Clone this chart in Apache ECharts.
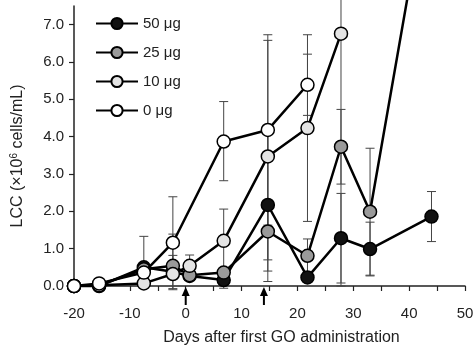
<!DOCTYPE html>
<html><head><meta charset="utf-8">
<script src="https://cdn.jsdelivr.net/npm/echarts@6/dist/echarts.min.js"></script>
<style>html,body{margin:0;padding:0;background:#fff}#c{width:474px;height:346px}</style>
</head><body><div id="c"></div>
<script>
// ---- data ----
const days = [-20, -15.5, -7.5, -2.3, 0.7, 6.8, 14.7, 21.8, 27.8, 33, 44];
const seriesNames = ['50 μg', '25 μg', '10 μg', '0 μg'];

const lcc50 = [0, 0, 0.5, 0.38, 0.27, 0.16, 2.17, 0.23, 1.28, 0.99, 1.86];
const lcc25 = [0, 0.02, 0.45, 0.54, 0.29, 0.36, 1.46, 0.81, 3.73, 1.99, 11.4];
const lcc10 = [0, 0.02, 0.07, 0.32, 0.54, 1.21, 3.47, 4.23, 6.76, null, null];
const lcc0  = [0, 0.07, 0.36, 1.16, null, 3.87, 4.18, 5.39, null, null, null];

// error bar half-lengths (up / down); null = none drawn
const err50Up   = [null, null, 0.83, null, null, 0.22, 2.05, null, 1.2, 0.72, 0.67];
const err50Down = [null, null, 0,    null, null, 0.22, 2.05, null, 1.2, 0.72, 0.67];
const err25Up   = [null, null, null, 0.85, null, null, 0.76, 0.45, 1.0, 1.7, null];
const err25Down = [null, null, null, 0.64, null, null, 0.76, 0.45, 1.0, 1.7, null];
const err10Up   = [null, null, null, 0.5, 0.29, 0.85, 3.11, 2.5, 6.76, null, null];
const err10Down = [null, null, null, 0,   0.29, 0.85, 3.07, 2.5, 6.76, null, null];
const err0Up    = [null, null, null, 1.23, null, 1.07, 2.55, 0.82, null, null, null];
const err0Down  = [null, null, null, 1.23, null, 1.05, 2.55, 0.82, null, null, null];

const arrowDays = [0, 14];
const xLabelValues = [-20, -10, 0, 10, 20, 30, 40, 50];
const xTickValues = [-20, -15, -10, -5, 0, 5, 10, 15, 20, 25, 30, 35, 40, 45, 50];
const yTickValues = [0, 1, 2, 3, 4, 5, 6, 7];

// ---- styles ----
const fills = ['#111111', '#9a9a9a', '#e4e4e4', '#ffffff'];
const values = [lcc50, lcc25, lcc10, lcc0];
const ups = [err50Up, err25Up, err10Up, err0Up];
const downs = [err50Down, err25Down, err10Down, err0Down];
const FONT = "'Liberation Sans', Arial, sans-serif";

const errData = [];
values.forEach((vals, s) => {
  days.forEach((d, i) => {
    const v = vals[i], u = ups[s][i], dn = downs[s][i];
    if (v == null || u == null) return;
    errData.push([d, v - dn, v + u, dn > 0 ? 1 : 0]);
  });
});

function renderErr(params, api) {
  const x = api.value(0), lo = api.value(1), hi = api.value(2), capLo = api.value(3);
  const p1 = api.coord([x, lo]), p2 = api.coord([x, hi]);
  const hw = 4.5;
  const style = { stroke: '#444', lineWidth: 1 };
  const ch = [
    { type: 'line', shape: { x1: p1[0], y1: p1[1], x2: p2[0], y2: p2[1] }, style },
    { type: 'line', shape: { x1: p2[0] - hw, y1: p2[1], x2: p2[0] + hw, y2: p2[1] }, style }
  ];
  if (capLo) ch.push({ type: 'line', shape: { x1: p1[0] - hw, y1: p1[1], x2: p1[0] + hw, y2: p1[1] }, style });
  return { type: 'group', children: ch };
}

function renderArrow(params, api) {
  const p = api.coord([api.value(0), 0]);
  const x = p[0], y = p[1];
  return { type: 'group', children: [
    { type: 'line', shape: { x1: x, y1: y + 8, x2: x, y2: y + 19 }, style: { stroke: '#000', lineWidth: 2 } },
    { type: 'polygon', shape: { points: [[x, y + 1], [x - 4, y + 10], [x + 4, y + 10]] }, style: { fill: '#000' } }
  ]};
}

const lineSeries = values.map((vals, s) => ({
  name: seriesNames[s],
  type: 'line',
  data: days.map((d, i) => [d, vals[i]]).filter(p => p[1] != null),
  symbol: 'circle',
  symbolSize: 13,
  clip: false,
  lineStyle: { color: '#000', width: 2.5 },
  itemStyle: { color: fills[s], borderColor: '#000', borderWidth: 1.5 },
  z: 3 + s,
  animation: false
}));

const chart = echarts.init(document.getElementById('c'), null, { renderer: 'canvas' });
chart.setOption({
  animation: false,
  backgroundColor: '#fff',
  textStyle: { fontFamily: FONT },
  grid: { left: 74, right: 9, top: 6, bottom: 60, containLabel: false, outerBoundsMode: 'none' },
  legend: {
    orient: 'vertical', left: 90, top: 11, itemWidth: 42, itemHeight: 14, itemGap: 14,
    data: seriesNames,
    textStyle: { fontSize: 15, color: '#222', fontFamily: FONT, padding: [0, 0, 0, 0] }
  },
  xAxis: {
    type: 'value', min: -20, max: 50, interval: 5,
    name: 'Days after first GO administration', nameLocation: 'middle', nameGap: 44,
    nameTextStyle: { fontSize: 16, color: '#222', fontFamily: FONT, padding: [0, 0, 0, 24] },
    axisLine: { onZero: false, lineStyle: { color: '#222', width: 1.5 } },
    axisTick: { show: true, length: 5, customValues: xTickValues, lineStyle: { color: '#222', width: 1.2 } },
    axisLabel: { customValues: xLabelValues, fontSize: 15, color: '#222', margin: 20, fontFamily: FONT },
    splitLine: { show: false }
  },
  yAxis: {
    type: 'value', min: 0, max: 7.5, interval: 1,
    name: 'LCC (×10{sup|6} cells/mL)', nameLocation: 'middle', nameGap: 47, nameRotate: 90,
    nameTextStyle: { fontSize: 16, color: '#222', fontFamily: FONT, padding: [0, 20, 0, 0],
      rich: { sup: { fontSize: 10, verticalAlign: 'bottom', padding: [0, 0, 8, 0], color: '#222', fontFamily: FONT } } },
    axisLine: { show: true, onZero: false, lineStyle: { color: '#222', width: 1.5 } },
    axisTick: { show: true, length: 5, customValues: yTickValues, lineStyle: { color: '#222', width: 1.2 } },
    axisLabel: { customValues: yTickValues, formatter: v => v.toFixed(1), fontSize: 15, color: '#222', margin: 10, fontFamily: FONT },
    splitLine: { show: false }
  },
  series: [
    { type: 'custom', name: 'err', renderItem: renderErr, data: errData, encode: { x: 0, y: [1, 2] }, z: 1, clip: false, silent: true },
    ...lineSeries,
    { type: 'custom', name: 'arrows', renderItem: renderArrow, data: arrowDays.map(d => [d]), encode: { x: 0 }, z: 10, clip: false, silent: true }
  ]
});
</script>
</body></html>
